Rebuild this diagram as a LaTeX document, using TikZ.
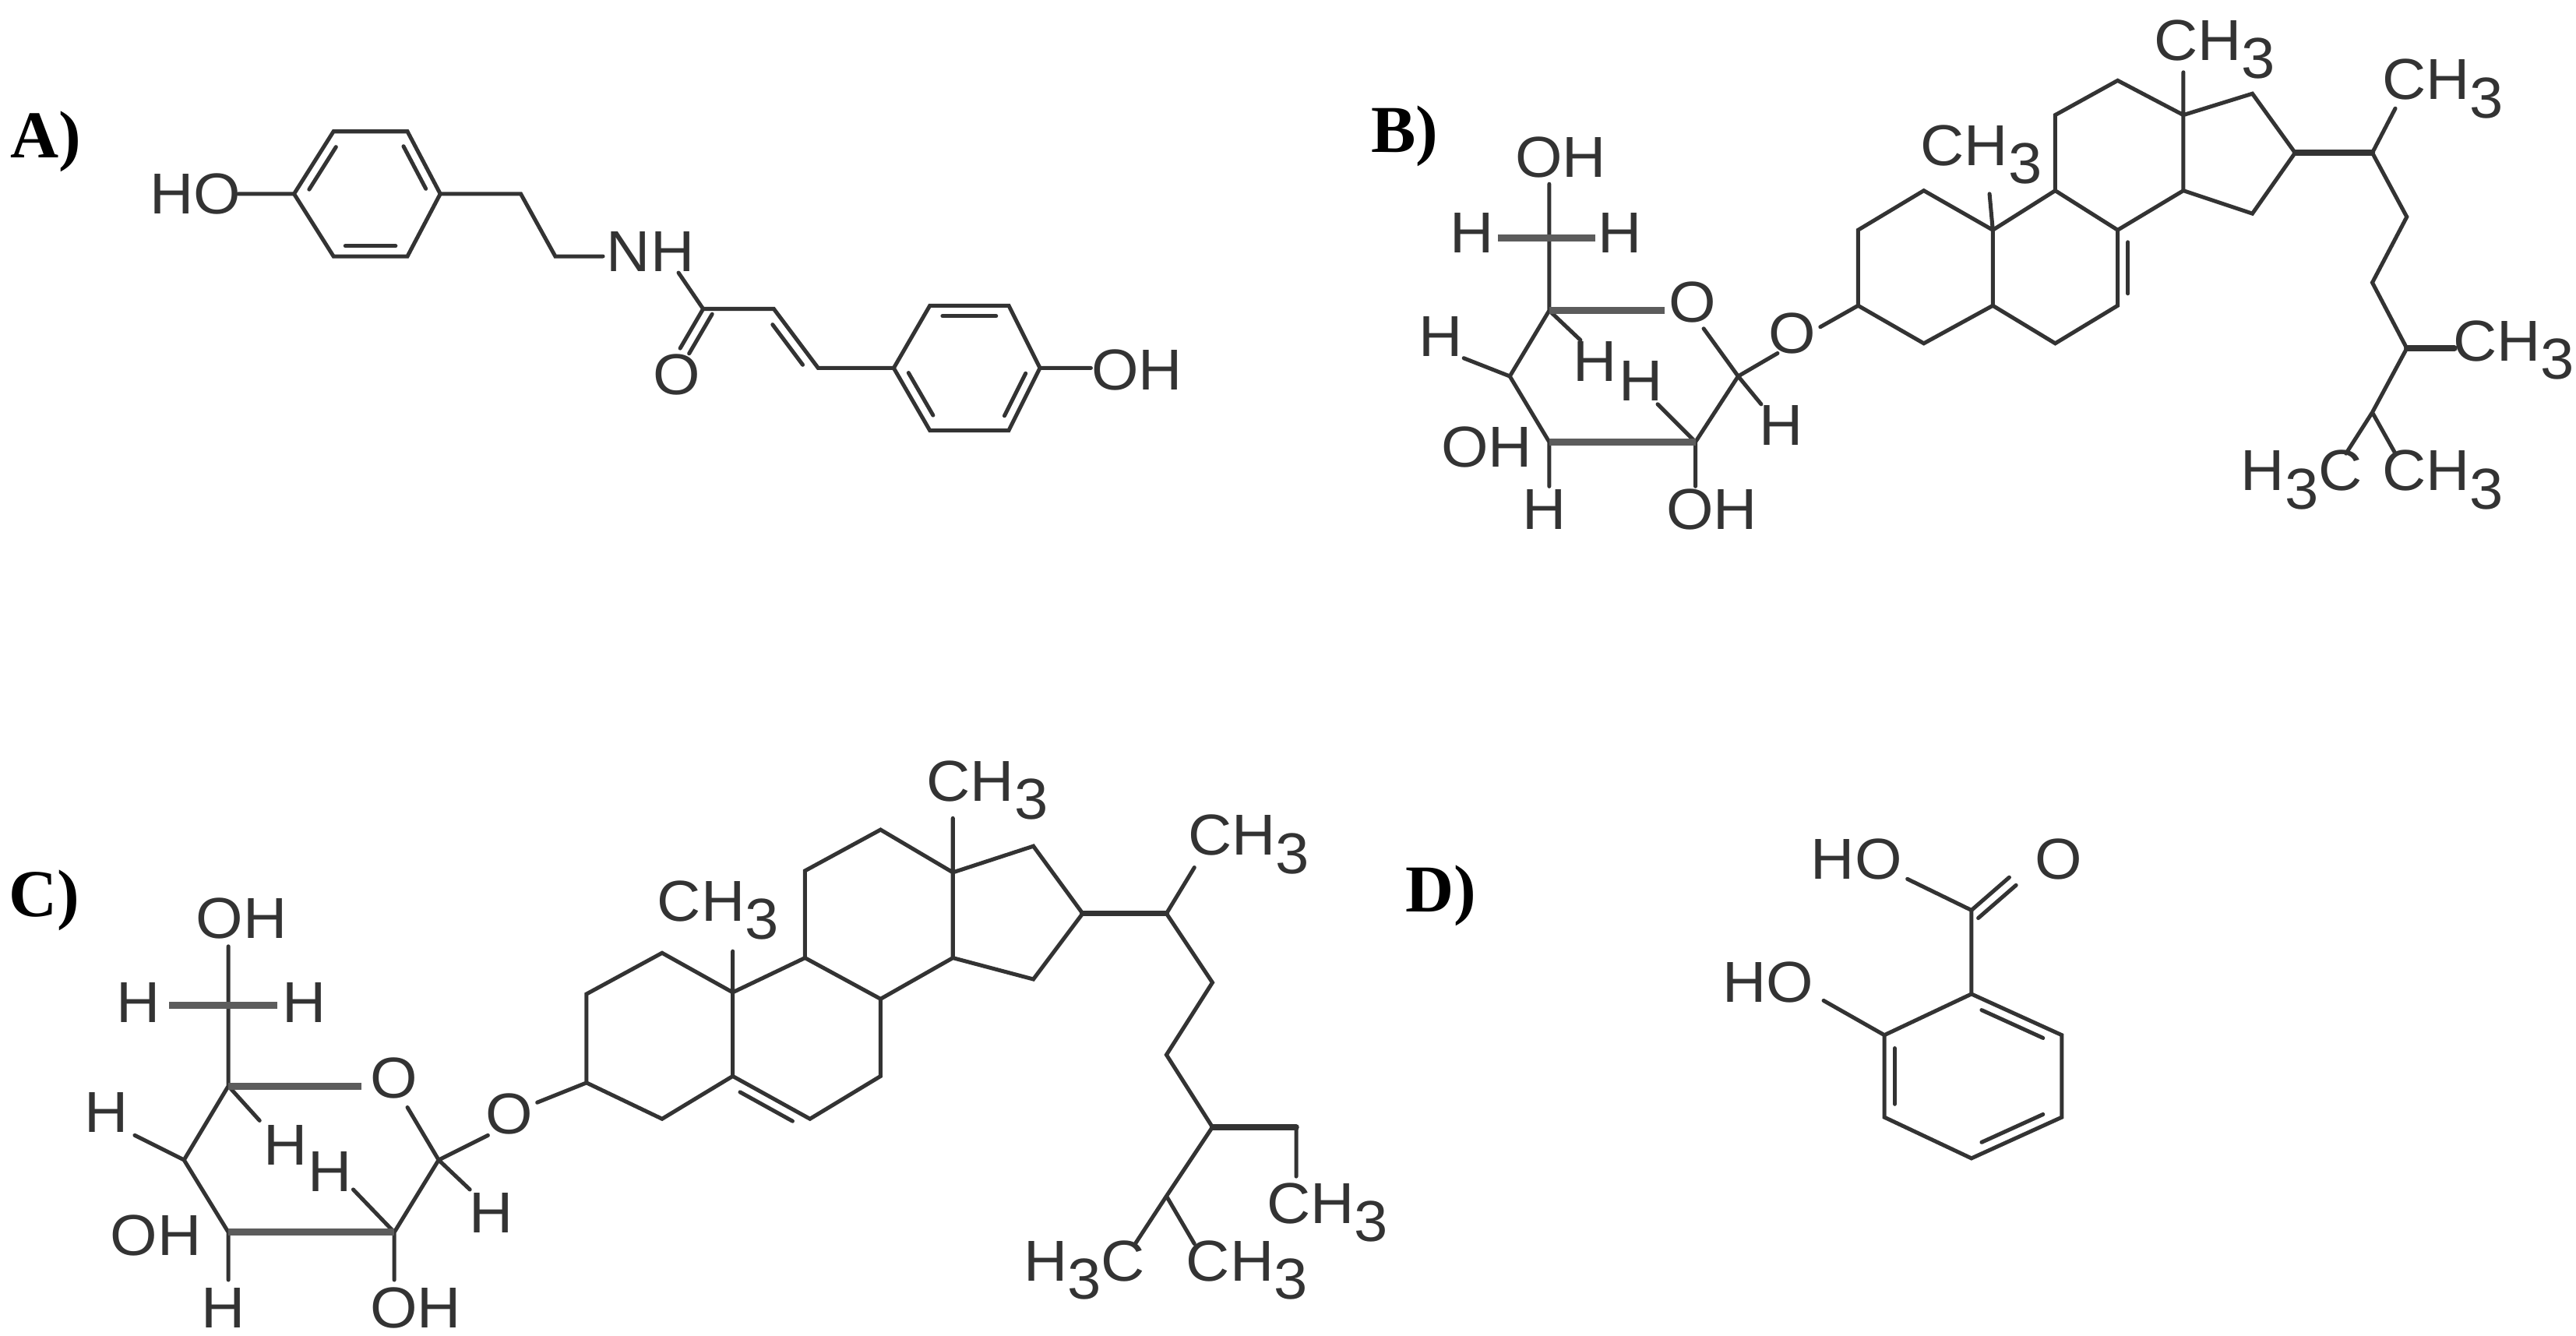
\documentclass[tikz,border=0pt]{standalone}
\usepackage{fontspec}
\setmainfont{Liberation Serif}
\newfontfamily\chemf[FakeStretch=1.05]{Liberation Sans}
\usetikzlibrary{calc}
\definecolor{ink}{HTML}{333333}
\newcommand\subt[1]{\raisebox{-.6ex}{#1}}
\tikzset{
 bond/.style={draw=ink,line width=3.4pt,line cap=round},
 wbond/.style={draw=ink!80,line width=6pt},
 atom/.style={inner sep=0pt,text=ink,font=\chemf\fontsize{50}{52}\selectfont},
 lab/.style={inner sep=0pt,font=\bfseries\fontsize{58}{60}\selectfont},
}
\newcommand\inb[3]{\draw[bond] ($(#1)!0.16!(#2)!9pt!#3:(#2)$) -- ($(#2)!0.16!(#1)!9pt!-#3:(#1)$);}
\newcommand\pb[3]{\draw[bond] ($(#1)!9pt!#3:(#2)$) -- ($(#2)!9pt!-#3:(#1)$);}
\begin{document}
\begin{tikzpicture}[x=0.05cm,y=-0.05cm]
\useasboundingbox[fill=white] (0,0) rectangle (1568,813);
% ---------------- labels
\node[lab] (LA) at (28,86) {A)};
\node[lab] (LB) at (855,83) {B)};
\node[lab] (LC) at (27,548) {C)};
\node[lab] (LD) at (877,545) {D)};
% ================= A
\foreach \n/\p in {a1/{179,118},a2/{203,80},a3/{248,80},a4/{268,118},a5/{248,156},a6/{203,156},
  c0/{145,118},c1/{317,118},c2/{338,156},c3/{367,156},c4/{413,166},cC/{428,188},cO/{414,212},
  cA/{471,188},cB/{498,224},b1/{544,224},b2/{566,186},b3/{614,186},b4/{633,224},b5/{614,262},b6/{566,262},c9/{664,224}}
  \coordinate (\n) at (\p);
\node[atom] (HOa) at (119,118) {HO};
\node[atom] (NH) at (396,153) {NH};
\node[atom] (Oa) at (412,228) {O};
\node[atom] (OHa) at (692,225) {OH};
\draw[bond] (a1)--(a2)--(a3)--(a4)--(a5)--(a6)--cycle;
\inb{a2}{a1}{90}\inb{a3}{a4}{270}\inb{a6}{a5}{90}
\draw[bond] (c0)--(a1) (a4)--(c1)--(c2)--(c3) (c4)--(cC)--(cO) (cC)--(cA)--(cB)--(b1);
\pb{cC}{cO}{90}
\inb{cA}{cB}{270}
\draw[bond] (b1)--(b2)--(b3)--(b4)--(b5)--(b6)--cycle (b4)--(c9);
\inb{b2}{b3}{270}\inb{b1}{b6}{90}\inb{b4}{b5}{270}
% ================= B sugar
\foreach \n/\p in {s0/{943,112},s6/{943,145},s5/{943,189},sO/{1013,189},sO2/{1037,200},s1/{1058,229},
  s2/{1032,269},s3/{943,269},s4/{919,229},hL/{912,145},hR/{971,145},g1/{1082,215},
  h1/{1072,246},o2/{1032,296},h2/{1009,246},h3/{943,296},h4/{891,218},h5/{962,207}}
  \coordinate (\n) at (\p);
\node[atom] (OHb6) at (950,96) {OH};
\node[atom] (Hb6l) at (896,142) {H};
\node[atom] (Hb6r) at (986,142) {H};
\node[atom] (Ob) at (1030,184) {O};
\node[atom] (Hb1) at (1084,259) {H};
\node[atom] (OHb2) at (1042,310) {OH};
\node[atom] (Hb2) at (999,232) {H};
\node[atom] (Hb3) at (940,310) {H};
\node[atom] (OHb4) at (905,272) {OH};
\node[atom] (Hb4) at (877,205) {H};
\node[atom] (Hb5) at (971,220) {H};
\draw[bond] (s0)--(s6)--(s5) (sO2)--(s1)--(s2) (s3)--(s4)--(s5) (s1)--(g1) (s1)--(h1)
  (s2)--(o2) (s2)--(h2) (s3)--(h3) (s4)--(h4) (s5)--(h5);
\draw[wbond] (hL)--(hR) (s5)--(sO) (s2)--(s3);
% B steroid
\node[atom] (Ogb) at (1091,203) {O};
\foreach \n/\p in {g2/{1108,199},r3/{1131,186},r2/{1131,140},r1/{1171,116},r10/{1213,140},r5/{1213,186},r4/{1171,209},
  m19/{1211,118},r9/{1251,116},r8/{1289,140},r7/{1289,186},r6/{1251,209},r11/{1251,70},r12/{1289,49},r13/{1329,70},
  r14/{1329,116},m18/{1329,44},r16/{1371,57},r17/{1397,93},r15/{1371,130},r20/{1444,93},m21/{1458,66},
  r22/{1465,132},r23/{1444,172},r24/{1465,212},m24/{1494,212},r25/{1444,251},m26/{1428,276},m27/{1458,276}}
  \coordinate (\n) at (\p);
\node[atom] (CH3b19) at (1206,94) {CH\subt{3}};
\node[atom] (CH3b18) at (1348,30) {CH\subt{3}};
\node[atom] (CH3b21) at (1487,54) {CH\subt{3}};
\node[atom] (CH3b24) at (1530,213) {CH\subt{3}};
\node[atom] (H3Cb) at (1401,292) {H\subt{3}C};
\node[atom] (CH3b27) at (1487,292) {CH\subt{3}};
\draw[bond] (g2)--(r3)--(r2)--(r1)--(r10)--(r5)--(r4)--(r3) (r10)--(m19) (r10)--(r9)--(r8)--(r7)--(r6)--(r5)
  (r9)--(r11)--(r12)--(r13)--(r14)--(r8) (r13)--(m18) (r13)--(r16)--(r17)--(r15)--(r14)
  (r20)--(m21) (r20)--(r22)--(r23)--(r24)--(r25)--(m26) (r25)--(m27);
\inb{r8}{r7}{90}
\draw[bond,line width=5pt] (r17)--(r20) (r24)--(m24);
% ================= C sugar
\foreach \n/\p in {t0/{139,576},t6/{139,612},t5/{139,661},tO/{220,661},tO2/{248,674},t1/{267,706},
  t2/{240,750},t3/{139,750},t4/{112,706},kL/{103,612},kR/{169,612},q1/{297,691},
  k1/{286,724},p2/{240,779},k2/{215,724},k3/{139,779},k4/{82,691},k5/{158,682}}
  \coordinate (\n) at (\p);
\node[atom] (OHc6) at (147,559) {OH};
\node[atom] (Hc6l) at (84,610) {H};
\node[atom] (Hc6r) at (185,610) {H};
\node[atom] (Oc) at (240,656) {O};
\node[atom] (Hc1) at (299,738) {H};
\node[atom] (OHc2) at (253,796) {OH};
\node[atom] (Hc2) at (201,713) {H};
\node[atom] (Hc3) at (136,796) {H};
\node[atom] (OHc4) at (95,752) {OH};
\node[atom] (Hc4) at (65,677) {H};
\node[atom] (Hc5) at (174,697) {H};
\draw[bond] (t0)--(t6)--(t5) (tO2)--(t1)--(t2) (t3)--(t4)--(t5) (t1)--(q1) (t1)--(k1)
  (t2)--(p2) (t2)--(k2) (t3)--(k3) (t4)--(k4) (t5)--(k5);
\draw[wbond] (kL)--(kR) (t5)--(tO) (t2)--(t3);
% C steroid
\node[atom] (Ogc) at (310,678) {O};
\foreach \n/\p in {q2/{327,671},u3/{357,659},u2/{357,605},u1/{403,580},u10/{446,604},u5/{446,655},u4/{403,681},
  n19/{446,579},u9/{490,583},u8/{536,608},u7/{536,655},u6/{493,681},u11/{490,530},u12/{536,505},u13/{580,531},
  u14/{580,583},n18/{580,498},u16/{629,515},u17/{659,556},u15/{629,596},u20/{710,556},n21/{727,528},
  u22/{738,598},u23/{710,642},u24/{738,686},v1/{789,686},v2/{789,716},u25/{710,728},n26/{691,757},n27/{727,757}}
  \coordinate (\n) at (\p);
\node[atom] (CH3c19) at (437,554) {CH\subt{3}};
\node[atom] (CH3c18) at (601,481) {CH\subt{3}};
\node[atom] (CH3c21) at (760,514) {CH\subt{3}};
\node[atom] (CH3c29) at (808,738) {CH\subt{3}};
\node[atom] (H3Cc) at (660,773) {H\subt{3}C};
\node[atom] (CH3c27) at (759,773) {CH\subt{3}};
\draw[bond] (q2)--(u3)--(u2)--(u1)--(u10)--(u5)--(u4)--(u3) (u10)--(n19) (u10)--(u9)--(u8)--(u7)--(u6)--(u5)
  (u9)--(u11)--(u12)--(u13)--(u14)--(u8) (u13)--(n18) (u13)--(u16)--(u17)--(u15)--(u14)
  (u20)--(n21) (u20)--(u22)--(u23)--(u24)--(u25)--(n26) (u25)--(n27) (v1)--(v2);
\inb{u5}{u6}{270}
\draw[bond,line width=5pt] (u17)--(u20) (u24)--(v1);
% ================= D
\foreach \n/\p in {dH/{1161,535},dC/{1200,554},dO/{1223,534},d1/{1200,605},d2/{1147,630},d3/{1147,680},
  d4/{1200,705},d5/{1255,680},d6/{1255,630},dH2/{1110,609}}
  \coordinate (\n) at (\p);
\node[atom] (HOd1) at (1130,523) {HO};
\node[atom] (Od) at (1253,523) {O};
\node[atom] (HOd2) at (1076,598) {HO};
\draw[bond] (dH)--(dC)--(dO) (dC)--(d1) (d1)--(d2)--(d3)--(d4)--(d5)--(d6)--cycle (dH2)--(d2);
\pb{dC}{dO}{270}
\inb{d1}{d6}{270}\inb{d2}{d3}{90}\inb{d4}{d5}{90}
\end{tikzpicture}
\end{document}
